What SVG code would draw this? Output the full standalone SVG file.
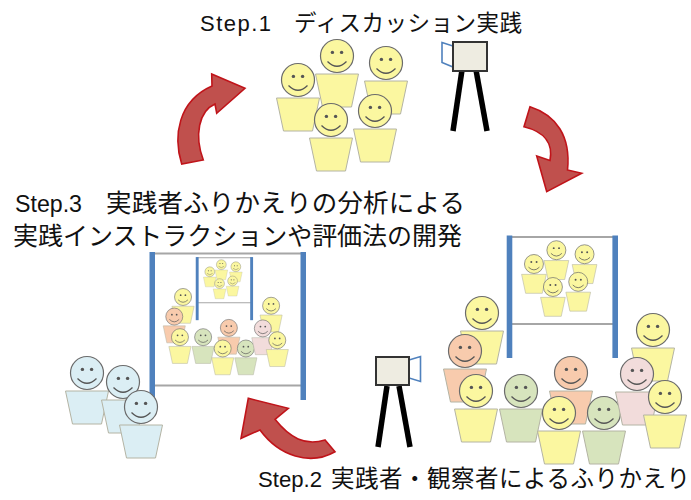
<svg xmlns="http://www.w3.org/2000/svg" xmlns:xlink="http://www.w3.org/1999/xlink" width="691" height="500" viewBox="0 0 691 500">
  <style>
    .yel{fill:#fbf7a0}
    .sal{fill:#f8cbad}
    .grn{fill:#d7e4bd}
    .pnk{fill:#f2dcdb}
    .blu{fill:#dbeef4}
    .rail{stroke:#a6a6a6;stroke-width:2;fill:none}
    .post{fill:#4f81bd}
    .leg{stroke:#000;stroke-width:5.5;stroke-linecap:butt}
    .cam{fill:#eeece1;stroke:#333;stroke-width:2}
    .lens{fill:#fff;stroke:#4f81bd;stroke-width:1.6}
    .arrow{fill:#c0504d;stroke:#c0141a;stroke-width:1.6;stroke-linejoin:miter}
    .lbl{font-family:"Noto Sans CJK JP","Noto Sans",sans-serif;fill:#111}
    .lat{font-family:"Liberation Sans",Arial,sans-serif;fill:#111}
  </style>
  <defs>
    <!-- one smiley figure: trapezoid body + round face -->
    <g id="pp">
      <path d="M-21.5,18H21.5L14.5,51H-14.5Z" stroke="#b4b4a4" stroke-width="1"/>
      <circle r="16.5" stroke="#6b6b6b" stroke-width="1.2"/>
      <circle cx="-4.6" cy="-3.6" r="1.7" fill="#555"/>
      <circle cx="4.6" cy="-3.6" r="1.7" fill="#555"/>
      <path d="M-9.5,5.5Q0,15 9.5,5.5" fill="none" stroke="#555" stroke-width="1.3"/>
    </g>
    <!-- discussion group of five -->
    <g id="discussion">
      <use xlink:href="#pp" href="#pp" x="337" y="56" class="yel"/>
      <use xlink:href="#pp" href="#pp" x="386" y="63" class="yel"/>
      <use xlink:href="#pp" href="#pp" x="298" y="80" class="yel"/>
      <use xlink:href="#pp" href="#pp" x="331" y="120" class="yel"/>
      <use xlink:href="#pp" href="#pp" x="375" y="111" class="yel"/>
    </g>
    <!-- reflection session: screen showing the discussion, audience in front -->
    <g id="reflection">
      <line class="rail" x1="509" y1="237" x2="615" y2="237"/>
      <line class="rail" x1="509" y1="324" x2="615" y2="324"/>
      <use xlink:href="#discussion" href="#discussion" transform="matrix(0.575,0,0,0.575,362.6,218)"/>
      <rect class="post" x="506.7" y="235.5" width="5.6" height="122.5"/>
      <rect class="post" x="612.4" y="235.5" width="5.6" height="122.5"/>
      <use xlink:href="#pp" href="#pp" x="482" y="313" class="yel"/>
      <use xlink:href="#pp" href="#pp" x="465" y="351" class="sal"/>
      <use xlink:href="#pp" href="#pp" x="476" y="391" class="yel"/>
      <use xlink:href="#pp" href="#pp" x="521" y="391" class="grn"/>
      <use xlink:href="#pp" href="#pp" x="571" y="373" class="sal"/>
      <use xlink:href="#pp" href="#pp" x="559" y="413" class="yel"/>
      <use xlink:href="#pp" href="#pp" x="604" y="413" class="grn"/>
      <use xlink:href="#pp" href="#pp" x="653" y="330" class="yel"/>
      <use xlink:href="#pp" href="#pp" x="637" y="374" class="pnk"/>
      <use xlink:href="#pp" href="#pp" x="665" y="397" class="yel"/>
    </g>
  </defs>

  <rect width="691" height="500" fill="#fff"/>

  <!-- Step 1: discussion and camera -->
  <g id="discussion-group">
    <use xlink:href="#discussion" href="#discussion"/>
  </g>
  <g id="camera-top">
    <line class="leg" x1="462" y1="70" x2="453" y2="131"/>
    <line class="leg" x1="476" y1="70" x2="487" y2="131"/>
    <polygon class="lens" points="442,42.5 453,46 453,67 442,62.5"/>
    <rect class="cam" x="453" y="42" width="34" height="29"/>
  </g>

  <!-- Step 2: reflection with camera -->
  <g id="reflection-group">
    <use xlink:href="#reflection" href="#reflection"/>
  </g>
  <g id="camera-bottom">
    <line class="leg" x1="387" y1="386" x2="378" y2="447"/>
    <line class="leg" x1="399" y1="386" x2="410" y2="447"/>
    <polygon class="lens" points="409,360 420.5,356.5 420.5,381.5 409,378"/>
    <rect class="cam" x="376" y="357" width="33" height="28"/>
  </g>

  <!-- Step 3: screen replaying the reflection session, watched by analysts -->
  <g id="analysis-screen">
    <line class="rail" x1="152" y1="253.5" x2="303" y2="253.5"/>
    <line class="rail" x1="152" y1="385.5" x2="303" y2="385.5"/>
    <use xlink:href="#reflection" href="#reflection" transform="matrix(0.515,0,0,0.515,-65.2,135.8)"/>
    <rect class="post" x="149.5" y="252" width="5.5" height="148"/>
    <rect class="post" x="300.5" y="252" width="5.5" height="148"/>
  </g>
  <g id="analysts">
    <use xlink:href="#pp" href="#pp" x="87" y="373" class="blu"/>
    <use xlink:href="#pp" href="#pp" x="123" y="382" class="blu"/>
    <use xlink:href="#pp" href="#pp" x="141" y="407" class="blu"/>
  </g>

  <!-- cycle arrows -->
  <g id="connectors">
    <path class="arrow" d="M181.7,164 C173,136 178,101 212,86 L211.7,74 L245,88.3 L216.7,113.3 L215,104 C199,111 194,135 203.3,160 Z"/>
    <path class="arrow" d="M530,106.7 C556,115 571,136 567.5,170 L581.7,173.3 L546.7,191.7 L536.7,156 L550,160.5 C553,145 546,132 524,126.7 Z"/>
    <path class="arrow" d="M335,451.7 C310,466 279,456 260,430 L241,438.3 L248.3,398.3 L288.3,408.3 L275,419.3 C290,438 305,446 325,440 Z"/>
  </g>

  <!-- step labels -->
  <g id="labels">
    <text class="lat" x="200" y="31" font-size="22" textLength="71" lengthAdjust="spacing">Step.1</text>
    <text class="lbl" x="294" y="31" font-size="22.5" textLength="228" lengthAdjust="spacing">ディスカッション実践</text>
    <text class="lat" x="15" y="212" font-size="24" textLength="67" lengthAdjust="spacingAndGlyphs">Step.3</text>
    <text class="lbl" x="106" y="212" font-size="25.5" textLength="359" lengthAdjust="spacing">実践者ふりかえりの分析による</text>
    <text class="lbl" x="13" y="245" font-size="25" textLength="449" lengthAdjust="spacing">実践インストラクションや評価法の開発</text>
    <text class="lat" x="258" y="487" font-size="22" textLength="64" lengthAdjust="spacingAndGlyphs">Step.2</text>
    <text class="lbl" x="331" y="487" font-size="23.5" textLength="359" lengthAdjust="spacing">実践者・観察者によるふりかえり</text>
  </g>
</svg>
